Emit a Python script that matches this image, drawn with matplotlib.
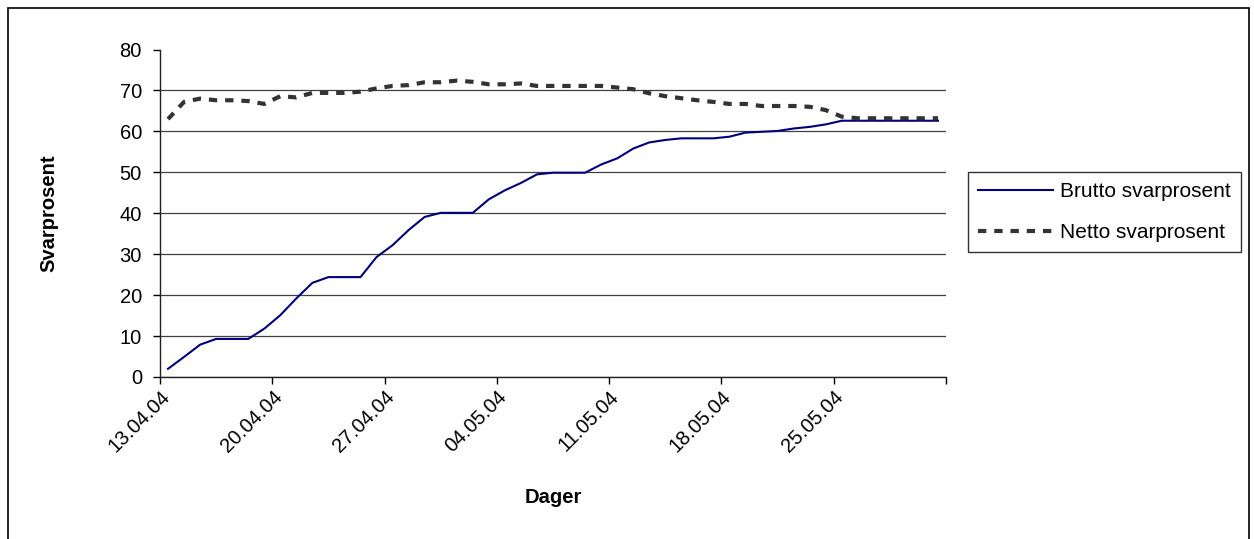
import pandas as pd
import matplotlib
matplotlib.use("Agg")
import matplotlib.pyplot as plt
from matplotlib.patches import Rectangle

plt.rcParams['font.family'] = ['Liberation Sans', 'DejaVu Sans']

# Dager (13.04.04 - 31.05.04)
dager = pd.date_range('2004-04-13', '2004-05-31', freq='D')

brutto = [2.0, 4.9, 7.9, 9.3, 9.3, 9.3, 11.8, 15.1, 19.2, 23.0,
          24.4, 24.4, 24.4, 29.3, 32.2, 35.9, 39.1, 40.1, 40.1, 40.1,
          43.4, 45.6, 47.4, 49.5, 49.9, 49.9, 49.9, 51.9, 53.4, 55.8,
          57.3, 57.9, 58.3, 58.3, 58.3, 58.7, 59.7, 59.9, 60.1, 60.7,
          61.1, 61.7, 62.6, 62.6, 62.6, 62.6, 62.6, 62.6, 62.6]

netto = [63.0, 67.2, 68.0, 67.6, 67.6, 67.4, 66.7, 68.6, 68.3, 69.4,
         69.4, 69.4, 69.7, 70.5, 71.1, 71.3, 72.0, 72.0, 72.4, 72.1,
         71.5, 71.5, 71.7, 71.1, 71.1, 71.1, 71.1, 71.1, 70.7, 70.3,
         69.3, 68.6, 68.1, 67.6, 67.2, 66.7, 66.7, 66.2, 66.2, 66.2,
         66.0, 65.2, 63.6, 63.2, 63.2, 63.2, 63.2, 63.2, 63.2]

y_ticks = [0, 10, 20, 30, 40, 50, 60, 70, 80]

x = list(range(len(dager)))

fig = plt.figure(figsize=(12.54, 5.39), dpi=100)
ax = fig.add_axes([160 / 1254, 1 - 377 / 539, (946 - 160) / 1254, (377 - 49.5) / 539])

ax.plot(x, brutto, color='#000080', lw=1.5, label='Brutto svarprosent')
ax.plot(x, netto, color='#333333', lw=3.0, dashes=(2.0, 1.9),
        label='Netto svarprosent')

# kategori-akse: punktene ligger mellom tikkene
ax.set_xlim(-0.5, len(dager) - 0.5)
tick_pos = [i - 0.5 for i in range(0, len(dager) + 1, 7)]
tick_lab = [dager[i].strftime('%d.%m.%y') if i < len(dager) else ''
            for i in range(0, len(dager) + 1, 7)]
ax.set_xticks(tick_pos)
ax.set_xticklabels(tick_lab, rotation=45, ha='right', va='top',
                   rotation_mode='anchor', fontsize=14.5)

ax.set_ylim(0, 80)
ax.set_yticks(y_ticks)
ax.tick_params(axis='y', labelsize=14.5, length=5, width=1, pad=8, direction='out')
ax.tick_params(axis='x', length=5, width=1, pad=2, direction='out')

ax.yaxis.grid(True, color='#404040', lw=0.9)
ax.get_ygridlines()[-1].set_visible(False)
ax.set_axisbelow(True)

for s in ['top', 'right']:
    ax.spines[s].set_visible(False)
for s in ['left', 'bottom']:
    ax.spines[s].set_color('#202020')
    ax.spines[s].set_linewidth(1.0)

ax.set_ylabel('Svarprosent', fontsize=14.5, fontweight='bold', labelpad=44)
ax.set_xlabel('Dager', fontsize=14.5, fontweight='bold', labelpad=23)

leg = fig.legend(loc='center left', bbox_to_anchor=(968 / 1254, 1 - 212 / 539),
                 fontsize=15, frameon=True, fancybox=False, borderaxespad=0,
                 handlelength=3.6, handletextpad=0.3, borderpad=0.5,
                 labelspacing=1.05)
leg.get_frame().set_edgecolor('black')
leg.get_frame().set_linewidth(1.0)

# ramme rundt hele diagrammet
fig.patches.append(Rectangle((8 / 1254, -0.05), (1249 - 8) / 1254, 1.05 - 8 / 539,
                             transform=fig.transFigure, fill=False,
                             edgecolor='black', lw=1.2))

fig.savefig('out.png', dpi=100)
